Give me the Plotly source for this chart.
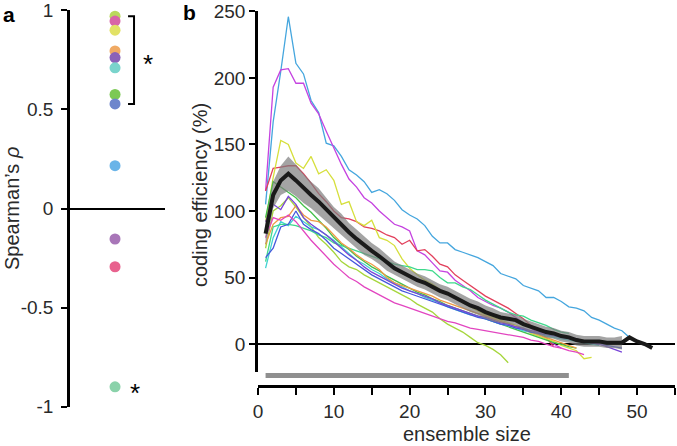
import plotly.graph_objects as go

# ---------------- data: panel a ----------------
rho_values = [0.971, 0.946, 0.90, 0.795, 0.762, 0.71, 0.576, 0.528, 0.216, -0.154, -0.294, -0.90]
rho_colors = ["#b9d95c", "#d864a8", "#e2e266", "#f0aa64", "#8a62b8", "#7ad4cc",
              "#7cc954", "#6e86cc", "#6ab4e8", "#a876b8", "#e8628e", "#8ad2aa"]
rho_significant = [0.971, 0.946, 0.90, 0.795, 0.762, 0.71, 0.576, 0.528]
rho_ticks = [-1, -0.5, 0, 0.5, 1]
rho_ticktext = ["-1", "-0.5", "0", "0.5", "1"]

# ---------------- data: panel b ----------------
eff_sky = [105, 167, 205, 246, 211, 203, 183, 174, 151, 149, 141, 131, 127, 122, 114, 116, 113, 108, 101, 97,
           94, 89, 81, 76, 76, 71, 69, 67, 65, 62, 59, 53, 51, 49, 44, 42, 40, 35, 35, 32,
           28, 27, 25, 20, 18, 15, 12, 10, 5]
eff_violet = [115, 193, 206, 207, 196, 196, 181, 173, 160, 147, 135, 124, 118, 110, 106, 100, 95, 90, 88, 85,
              70, 67, 61, 55, 54, 48, 44, 40, 35, 32, 29, 27, 24, 20, 16, 12, 8, 4, 0, -3]
eff_red = [115, 132, 133, 134, 134, 128, 121, 113, 107, 100, 95, 94, 92, 88, 87, 85, 82, 80, 75, 78,
           70, 71, 66, 60, 58, 52, 48, 44, 40, 36, 33, 30, 27, 23, 19, 14, 10, 5, -2]
eff_yellow = [92, 125, 153, 150, 136, 132, 141, 128, 131, 123, 105, 107, 92, 89, 93, 80, 78, 74, 64, 57,
              52, 48, 45, 41, 38, 35, 31, 28, 25, 22, 20, 18, 16, 14, 12, 8, 6, 4, 2, -1,
              -3, -5, -11, -10]
eff_yellowgreen = [72, 100, 104, 110, 103, 95, 88, 80, 75, 69, 62, 58, 56, 52, 49, 46, 43, 40, 37, 34,
                   30, 27, 24, 19, 15, 12, 9, 5, 1, -1, -4, -8, -14]
eff_green = [95, 122, 118, 114, 110, 104, 99, 93, 87, 80, 75, 71, 66, 62, 58, 55, 51, 48, 45, 42,
             39, 37, 34, 32, 29, 27, 25, 23, 21, 19, 17, 15, 13, 11, 9, 7, 5, 3, 1, 0, -2, -3]
eff_cyan = [57, 80, 92, 89, 96, 92, 88, 86, 82, 78, 73, 68, 63, 60, 56, 53, 49, 46, 43, 40,
            38, 35, 33, 31, 28, 26, 24, 22, 21, 19, 17, 15, 14, 12, 10, 9, 7, 6, 5, 4, 3, 2, 1, 0, -1]
eff_mint = [62, 88, 90, 90, 89, 87, 85, 82, 80, 76, 74, 72, 70, 68, 66, 64, 62, 60, 59, 58,
            56, 56, 55, 50, 46, 46, 43, 41, 37, 33, 30, 27, 24, 22, 21, 18, 16, 14, 11, 9, 8]
eff_orange = [75, 90, 95, 96, 104, 97, 93, 92, 88, 82, 76, 72, 67, 63, 60, 56, 50, 46, 44, 42,
              40, 38, 36, 33, 31, 29, 27, 25, 23, 21, 19, 17, 15, 13, 11, 9, 7, 5, 3, 1, -1, -3]
eff_blue = [65, 72, 88, 90, 100, 90, 86, 83, 78, 72, 68, 64, 60, 56, 52, 49, 46, 43, 40, 38,
            36, 34, 32, 30, 28, 26, 24, 22, 20, 19, 17, 15, 14, 12, 11, 9, 8, 7, 6, 5,
            4, 3, 2, 1, 0, -1, -2, -3]
eff_purple = [92, 105, 101, 111, 105, 95, 90, 86, 82, 77, 72, 67, 63, 58, 54, 51, 48, 45, 42, 40,
              38, 36, 34, 31, 29, 27, 25, 23, 21, 20, 18, 16, 15, 13, 12, 10, 9, 8, 7, 6,
              5, 4, 2, 1, 0, -2, -4, -6]
eff_pink = [80, 95, 93, 97, 92, 85, 78, 72, 66, 60, 55, 50, 47, 43, 40, 37, 34, 31, 29, 27,
            25, 23, 21, 19, 17, 16, 14, 12, 11, 10, 9, 8, 7, 6, 5, 3, 2, 0, -2, -3, -5, -6, -8]
eff_mean = [83, 112, 123, 128, 123, 117, 112, 107, 101, 95, 90, 84, 79, 74, 70, 66, 61, 57, 54, 51,
            48, 46, 43, 40, 38, 35, 32, 29, 27, 24, 22, 20, 19, 18, 15, 13, 11, 9, 8, 6,
            5, 3, 2, 2, 2, 1, 1, 1, 5, 2, 0, -3]
eff_sem = [9, 10, 11, 13, 12, 11, 10, 10, 9, 8, 8, 7, 7, 7, 6, 6, 6, 5, 5, 5,
           5, 5, 5, 5, 5, 5, 5, 5, 5, 5, 5, 4, 4, 4, 4, 4, 4, 4, 4, 4,
           4, 4, 4, 4, 4, 4, 4, 5]
sig_range = [1, 41]

series = [
    (eff_sky, "#45a6de"), (eff_violet, "#c543e0"), (eff_red, "#e2405c"),
    (eff_yellow, "#d6df3c"), (eff_yellowgreen, "#a6d63c"), (eff_green, "#44c04a"),
    (eff_cyan, "#40d2d2"), (eff_mint, "#3ed98c"), (eff_orange, "#ef9a45"),
    (eff_blue, "#4458dc"), (eff_purple, "#7844d8"), (eff_pink, "#e245c0"),
]

x_ticks = [0, 5, 10, 15, 20, 25, 30, 35, 40, 45, 50, 55]
x_ticktext = ["0", "", "10", "", "20", "", "30", "", "40", "", "50", ""]
y_ticks = [0, 50, 100, 150, 200, 250]

W, H = 677, 446
FONT = "Liberation Sans, Arial, Helvetica, sans-serif"
TXT = "#2a2a2a"

fig = go.Figure()

# panel a
fig.add_trace(go.Scatter(x=[0] * len(rho_values), y=rho_values, mode="markers",
                         marker=dict(size=11, color=rho_colors, line=dict(width=0)),
                         xaxis="x", yaxis="y", showlegend=False, hoverinfo="skip"))
top, bot = max(rho_significant), min(rho_significant)
fig.add_trace(go.Scatter(x=[0.137, 0.20, 0.20, 0.137], y=[top, top, bot, bot], mode="lines",
                         line=dict(color="black", width=2), xaxis="x", yaxis="y",
                         showlegend=False, hoverinfo="skip"))

# panel b lines
for vals, col in series:
    fig.add_trace(go.Scatter(x=list(range(1, len(vals) + 1)), y=vals, mode="lines",
                             line=dict(color=col, width=1.3), xaxis="x2", yaxis="y2",
                             showlegend=False, hoverinfo="skip"))
n_band = list(range(1, len(eff_sem) + 1))
upper = [m + s for m, s in zip(eff_mean, eff_sem)]
lower = [m - s for m, s in zip(eff_mean, eff_sem)]
fig.add_trace(go.Scatter(x=n_band + n_band[::-1], y=upper + lower[::-1], fill="toself",
                         fillcolor="rgba(125,125,125,0.7)", line=dict(width=0),
                         mode="lines", xaxis="x2", yaxis="y2", showlegend=False, hoverinfo="skip"))
fig.add_trace(go.Scatter(x=list(range(1, len(eff_mean) + 1)), y=eff_mean, mode="lines",
                         line=dict(color="#1a1a1a", width=4), xaxis="x2", yaxis="y2",
                         showlegend=False, hoverinfo="skip"))
fig.add_trace(go.Scatter(x=sig_range, y=[0, 0], mode="lines",
                         line=dict(color="#8f8f8f", width=5), xaxis="x3", yaxis="y3",
                         showlegend=False, hoverinfo="skip"))

tickfont = dict(family=FONT, size=19, color=TXT)
fig.update_layout(
    template="none",
    width=W, height=H, margin=dict(l=0, r=0, t=0, b=0, pad=0, autoexpand=False),
    paper_bgcolor="white", plot_bgcolor="rgba(0,0,0,0)", showlegend=False,
    xaxis=dict(domain=[70 / W, 165 / W], range=[-0.474, 0.526], visible=False, anchor="y",
               automargin=False),
    yaxis=dict(domain=[1 - 407 / H, 1 - 10 / H], range=[-1.002, 1.002], anchor="x",
               tickvals=rho_ticks, ticktext=rho_ticktext, ticks="outside", ticklen=6,
               tickwidth=2, tickcolor="black", showline=True, linewidth=2.5, linecolor="black",
               zeroline=True, zerolinecolor="black", zerolinewidth=2, showgrid=False,
               tickfont=tickfont, ticklabelstandoff=4, automargin=False),
    xaxis2=dict(domain=[258 / W, 675 / W], range=[0, 55], anchor="free", position=1 - 386 / H,
                tickvals=x_ticks, ticktext=x_ticktext, ticks="outside", ticklen=7, tickwidth=2,
                tickcolor="black", showline=True, linewidth=2.5, linecolor="black",
                zeroline=False, showgrid=False, tickfont=tickfont, automargin=False),
    yaxis2=dict(domain=[1 - 372 / H, 1 - 11 / H], range=[-21, 250.3], anchor="x2",
                tickvals=y_ticks, ticks="outside", ticklen=6, tickwidth=2, tickcolor="black",
                showline=True, linewidth=2.5, linecolor="black", zeroline=True,
                zerolinecolor="black", zerolinewidth=2, showgrid=False, tickfont=tickfont,
                ticklabelstandoff=0, automargin=False),
    xaxis3=dict(domain=[258 / W, 675 / W], matches="x2", visible=False, anchor="y3",
                automargin=False),
    yaxis3=dict(domain=[1 - 381 / H, 1 - 370 / H], range=[-1, 1], visible=False, anchor="x3",
                automargin=False),
)

ann = []
ann.append(dict(text="Spearman’s <i>ρ</i>", x=12 / W, y=1 - 209 / H, xref="paper", yref="paper",
                textangle=-90, showarrow=False, xanchor="center", yanchor="middle",
                font=dict(family=FONT, size=20, color=TXT)))
ann.append(dict(text="coding efficiency (%)", x=200 / W, y=1 - 195 / H, xref="paper", yref="paper",
                textangle=-90, showarrow=False, xanchor="center", yanchor="middle",
                font=dict(family=FONT, size=20, color=TXT)))
ann.append(dict(text="ensemble size", x=466.5 / W, y=1 - 434 / H, xref="paper", yref="paper",
                showarrow=False, xanchor="center", yanchor="middle",
                font=dict(family=FONT, size=20, color=TXT)))
ann.append(dict(text="<b>a</b>", x=9 / W, y=1 - 15 / H, xref="paper", yref="paper",
                showarrow=False, xanchor="center", yanchor="middle",
                font=dict(family=FONT, size=21, color="black")))
ann.append(dict(text="<b>b</b>", x=189 / W, y=1 - 13 / H, xref="paper", yref="paper",
                showarrow=False, xanchor="center", yanchor="middle",
                font=dict(family=FONT, size=21, color="black")))
ann.append(dict(text="*", x=0.347, y=(top + bot) / 2, xref="x", yref="y", showarrow=False,
                xanchor="center", yanchor="middle", yshift=-4,
                font=dict(family=FONT, size=26, color="black")))
ann.append(dict(text="*", x=0.21, y=min(rho_values), xref="x", yref="y", showarrow=False,
                xanchor="center", yanchor="middle", yshift=-6,
                font=dict(family=FONT, size=26, color="black")))
fig.update_layout(annotations=ann)

fig.write_html("out.html", config={"displayModeBar": False},
               post_script="document.body.style.margin='0';")
